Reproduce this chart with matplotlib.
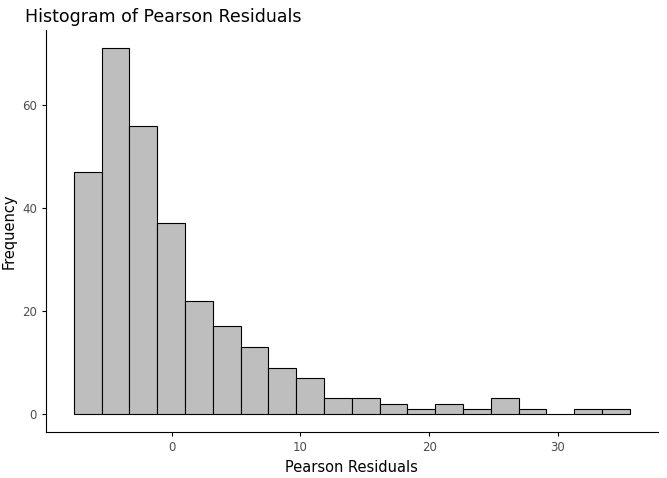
import numpy as np
import matplotlib
matplotlib.use("Agg")
from matplotlib import pyplot

# histogram bins
bin_start = -7.6
bin_width = 2.16
counts = [47, 71, 56, 37, 22, 17, 13, 9, 7, 3, 3, 2, 1, 2, 1, 3, 1, 0, 1, 1]
xticks = [0, 10, 20, 30]
yticks = [0, 20, 40, 60]

edges = bin_start + bin_width * np.arange(len(counts) + 1)

fig = pyplot.figure(figsize=(6.67, 4.78), dpi=100)
ax = fig.add_axes([0.069, 0.096, 0.917, 0.841])
ax.bar(edges[:-1], counts, width=bin_width, align='edge',
       color='#bebebe', edgecolor='black', linewidth=0.8)

span = edges[-1] - edges[0]
ax.set_xlim(edges[0] - 0.05 * span, edges[-1] + 0.05 * span)
ax.set_ylim(-0.05 * max(counts), 1.05 * max(counts))
ax.set_xticks(xticks)
ax.set_yticks(yticks)
for s in ['top', 'right']:
    ax.spines[s].set_visible(False)
ax.tick_params(colors='#4d4d4d', labelsize=8.5, length=3)
ax.tick_params(axis='both', color='black')
ax.set_xlabel('Pearson Residuals', fontsize=10.5)
ax.set_ylabel('Frequency', fontsize=10.5)
ax.set_title('Histogram of Pearson Residuals', loc='left', fontsize=12.5, x=-0.035)

pyplot.savefig('out.png', dpi=100)
